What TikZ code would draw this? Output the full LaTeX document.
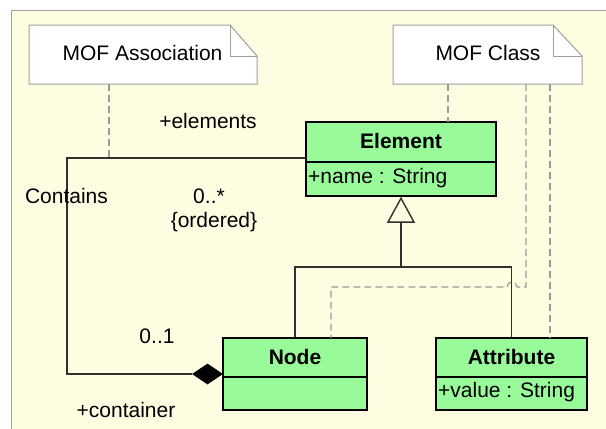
\documentclass[tikz,border=0pt]{standalone}
\usepackage{fontspec}
\setmainfont{Liberation Sans}
\usetikzlibrary{arrows.meta,shapes.geometric}
\definecolor{paper}{HTML}{FFFDE1}
\definecolor{classfill}{HTML}{99FA99}
\definecolor{notegray}{HTML}{A0A0A0}
\definecolor{linkgray}{HTML}{9A9A9A}
\definecolor{wire}{HTML}{303030}
\tikzset{
  lbl/.style={font=\fontsize{21}{25}\selectfont, inner sep=0pt},
  boldlbl/.style={font=\fontsize{21}{25}\selectfont\bfseries, inner sep=0pt},
  classbox/.style={draw=black, line width=1.6pt, fill=classfill, minimum width=#1, minimum height=72pt, inner sep=0pt},
  notebox/.style={draw=notegray, line width=1pt, fill=white},
  anchorlink/.style={draw=linkgray, line width=1.2pt, dash pattern=on 7pt off 4pt},
  assoc/.style={draw=wire, line width=1.4pt},
}
\begin{document}
\begin{tikzpicture}[x=1pt,y=-1pt]
\useasboundingbox (0,0) rectangle (606,429);
% canvas
\fill[paper] (11,10) rectangle (606,429);
\draw[notegray, line width=1pt] (11,429) -- (11,10) -- (606,10);

% notes
\path[notebox] (29,25) -- (230,25) -- (257,56) -- (257,84) -- (29,84) -- cycle;
\draw[notegray, line width=1pt] (230,25) -- (230,56) -- (257,56);
\node[lbl] (assocnote) at (142.5,53) {MOF Association};

\path[notebox] (393,25) -- (553,25) -- (582,56) -- (582,84) -- (393,84) -- cycle;
\draw[notegray, line width=1pt] (553,25) -- (553,56) -- (582,56);
\node[lbl] (classnote) at (488,53) {MOF Class};

% classes
\node[classbox=190pt, minimum height=74pt] (element) at (401,159) {};
\draw[line width=1.6pt] (306,162) -- (496,162);
\node[boldlbl] (elementname) at (401,141) {Element};
\node[lbl, anchor=west] (elementattr) at (308,178) {+name : String};

\node[classbox=144pt] (node) at (295,374) {};
\draw[line width=1.6pt] (223,377) -- (367,377);
\node[boldlbl] (nodename) at (295,357) {Node};

\node[classbox=151pt] (attribute) at (511.5,374) {};
\draw[line width=1.6pt] (436,377) -- (587,377);
\node[boldlbl] (attributename) at (511.5,357) {Attribute};
\node[lbl, anchor=west] (attributeattr) at (438,392) {+value : String};

% note anchors
\coordinate (assoctail) at (109,84);
\coordinate (assochead) at (109,158);
\draw[anchorlink] (assoctail) -- (assochead);
\draw[anchorlink] (448,84) -- (448,122);
\draw[anchorlink] (526,84) -- (526,287) -- (517,287)
  arc[start angle=0, end angle=180, radius=5pt] -- (331,287) -- (331,338);
\draw[anchorlink] (550,84) -- (550,338);

% generalization
\coordinate (genbar) at (401,267);
\draw[assoc] (node.north) |- (attribute.north |- genbar) -- (attribute.north);
\draw[assoc, -{Triangle[open, length=26pt, width=28pt, line width=1.4pt]}] (genbar) -- (element.south);

% composition Contains
\node[diamond, fill=black, minimum width=31pt, minimum height=21pt, inner sep=0pt] (whole) at (207.5,374) {};
\coordinate (partend) at (306,158);
\draw[assoc] (partend) -- (67,158) -- (67,374) -- (whole.west);

% labels
\node[lbl] (rolehead) at (208,121) {+elements};
\node[lbl] (assocname) at (66.5,196) {Contains};
\node[lbl] (multhead) at (209,196) {0..*};
\node[lbl] (ordered) at (214,222) {\{ordered\}};
\node[lbl] (multtail) at (157,336) {0..1};
\node[lbl] (roletail) at (126,410) {+container};
\end{tikzpicture}
\end{document}
